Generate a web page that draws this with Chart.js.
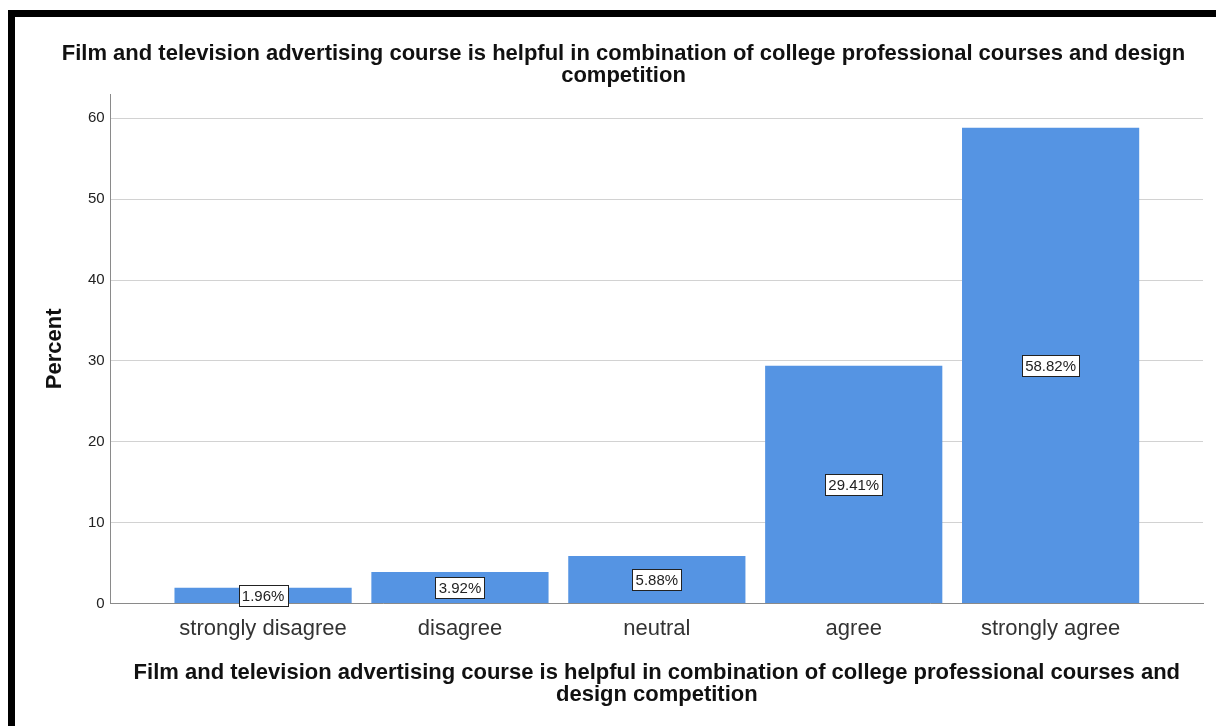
<!DOCTYPE html>
<html>
<head>
<meta charset="utf-8">
<script src="https://cdn.jsdelivr.net/npm/chart.js@4.4.1/dist/chart.umd.min.js"></script>
<style>
  html, body { margin: 0; padding: 0; background: #fff; }
  #frame {
    position: absolute; left: 8px; top: 10px; width: 1208px; height: 716px;
    border-top: 7px solid #000; border-left: 7px solid #000; background: #fff;
  }
  #chartC { position: absolute; left: 0; top: 0; }
</style>
</head>
<body>
<div id="frame"><canvas id="chartC" width="1201" height="709"></canvas></div>
<script>
var categories = ['strongly disagree', 'disagree', 'neutral', 'agree', 'strongly agree'];
var percents = [1.96, 3.92, 5.88, 29.41, 58.82];
var yTicks = [0, 10, 20, 30, 40, 50, 60];
var titleLines = ['Film and television advertising course is helpful in combination of college professional courses and design', 'competition'];
var xTitleLines = ['Film and television advertising course is helpful in combination of college professional courses and', 'design competition'];

var FONT = '"Liberation Sans", Arial, sans-serif';

// white boxed value labels in the middle of each bar
var boxLabels = {
  id: 'boxLabels',
  afterDatasetsDraw: function(chart) {
    var c = chart.ctx;
    var meta = chart.getDatasetMeta(0);
    c.save();
    c.font = '15px ' + FONT;
    c.textAlign = 'center';
    c.textBaseline = 'middle';
    meta.data.forEach(function(bar, i) {
      var txt = percents[i].toFixed(2) + '%';
      var cx = bar.x, cy = (bar.y + bar.base) / 2;
      var w = Math.round(c.measureText(txt).width + 6), h = 21;
      var bx = Math.round(cx - w / 2) + 0.5, by = Math.round(cy - h / 2) + 0.5;
      c.fillStyle = '#fff';
      c.fillRect(bx, by, w, h);
      c.strokeStyle = '#222';
      c.lineWidth = 1;
      c.strokeRect(bx, by, w, h);
      c.fillStyle = '#222';
      c.fillText(txt, cx, cy + 1);
    });
    c.restore();
  }
};

var ctx = document.getElementById('chartC');
var chartC = new Chart(ctx, {
  type: 'bar',
  data: {
    datasets: [{
      data: percents.map(function(v, i) { return { x: i, y: v }; }),
      backgroundColor: '#5594e3',
      borderWidth: 0,
      barPercentage: 0.9,
      categoryPercentage: 1.0
    }]
  },
  options: {
    responsive: false,
    animation: false,
    layout: { padding: { left: 29, right: 13, top: 0, bottom: 20 } },
    scales: {
      x: {
        type: 'linear',
        offset: false,
        min: -0.774,
        max: 4.774,
        afterBuildTicks: function(s) { s.ticks = categories.map(function(c, i) { return { value: i }; }); },
        grid: { display: false },
        border: { display: true, color: '#8a8a8a', width: 1 },
        ticks: {
          autoSkip: false,
          maxRotation: 0,
          padding: 4,
          color: '#333',
          font: { family: FONT, size: 22, lineHeight: 1.2 },
          callback: function(v) { return categories[v]; }
        },
        title: {
          display: true,
          text: xTitleLines,
          color: '#111',
          padding: { top: 16, bottom: 0 },
          font: { family: FONT, size: 22, weight: 'bold', lineHeight: 1.0 }
        }
      },
      y: {
        min: 0,
        max: 63,
        afterBuildTicks: function(s) { s.ticks = yTicks.map(function(v) { return { value: v }; }); },
        grid: { color: '#d2d2d2', drawTicks: false },
        border: { display: true, color: '#8a8a8a', width: 1 },
        ticks: {
          padding: 6,
          color: '#222',
          font: { family: FONT, size: 15 }
        },
        title: {
          display: true,
          text: 'Percent',
          color: '#111',
          padding: { top: 0, bottom: 16 },
          font: { family: FONT, size: 22, weight: 'bold', lineHeight: 1.0 }
        }
      }
    },
    plugins: {
      legend: { display: false },
      tooltip: { enabled: false },
      title: {
        display: true,
        text: titleLines,
        color: '#111',
        padding: { top: 26, bottom: 7 },
        font: { family: FONT, size: 22, weight: 'bold', lineHeight: 1.0 }
      }
    }
  },
  plugins: [boxLabels]
});
</script>
</body>
</html>
